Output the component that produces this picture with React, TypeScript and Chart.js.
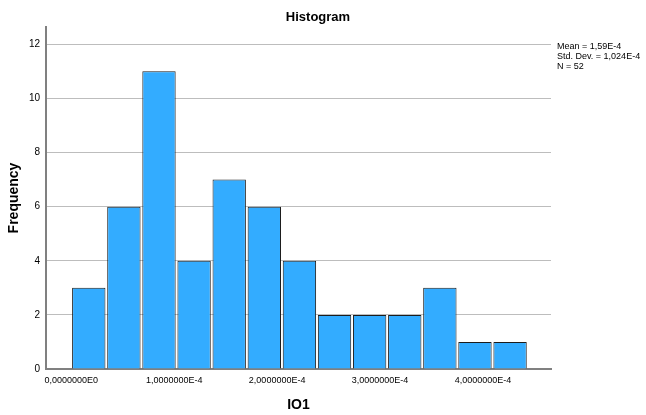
import React, { useEffect, useRef } from "react";
import { Chart, registerables } from "chart.js";

Chart.register(...registerables);

// Bin edges in units of 1e-4
const binEdges = [0.0, 0.341, 0.682, 1.023, 1.364, 1.705, 2.046, 2.387, 2.728, 3.069, 3.41, 3.751, 4.092, 4.433];
const frequencies = [3, 6, 11, 4, 7, 6, 4, 2, 2, 2, 3, 1, 1];
const xTickValues = [0, 1, 2, 3, 4];
const yTickValues = [0, 2, 4, 6, 8, 10, 12];
const legendLines = ["Mean = 1,59E-4", "Std. Dev. = 1,024E-4", "N = 52"];
const chartTitle = "Histogram";
const xTitle = "IO1";
const yTitle = "Frequency";

const FONT = "'Liberation Sans', Arial, sans-serif";

function formatX(v: number): string {
  if (v === 0) return "0,0000000E0";
  return `${v},0000000E-4`;
}

const textPlugin = {
  id: "spssTexts",
  afterDraw(chart: any) {
    const ctx = chart.ctx;
    const area = chart.chartArea;
    ctx.save();
    ctx.fillStyle = "#000";
    // main title
    ctx.font = `bold 13px ${FONT}`;
    ctx.textAlign = "center";
    ctx.textBaseline = "middle";
    ctx.fillText(chartTitle, 318, 17);
    // x title
    ctx.font = `bold 14px ${FONT}`;
    ctx.fillText(xTitle, (area.left + area.right) / 2, 405);
    // y title
    ctx.save();
    ctx.translate(14, (area.top + area.bottom) / 2);
    ctx.rotate(-Math.PI / 2);
    ctx.fillText(yTitle, 0, 0);
    ctx.restore();
    // legend / stats
    ctx.font = `9px ${FONT}`;
    ctx.textAlign = "left";
    legendLines.forEach((t, i) => {
      ctx.fillText(t, area.right + 6, 47 + i * 10);
    });
    ctx.restore();
  },
};

export default function App() {
  const ref = useRef<HTMLCanvasElement | null>(null);

  useEffect(() => {
    document.body.style.margin = "0";
    const canvas = ref.current;
    if (!canvas) return;
    const data = frequencies.map((f, i) => ({
      x: (binEdges[i] + binEdges[i + 1]) / 2,
      y: f,
    }));
    const chart = new Chart(canvas, {
      type: "bar",
      data: {
        datasets: [
          {
            data,
            backgroundColor: "#33acff",
            borderColor: "#1c1c1c",
            borderWidth: 1,
            barPercentage: 0.95,
            categoryPercentage: 1,
          } as any,
        ],
      },
      options: {
        responsive: false,
        animation: false,
        layout: { padding: { top: 27, right: 95, bottom: 0, left: 0 } },
        plugins: {
          legend: { display: false },
          tooltip: { enabled: false },
          title: { display: false },
        },
        scales: {
          x: {
            type: "linear",
            min: -0.245,
            max: 4.66,
            offset: false,
            afterFit: (s: any) => {
              s.height = 46;
            },
            afterBuildTicks: (s: any) => {
              s.ticks = xTickValues.map((v) => ({ value: v }));
            },
            ticks: {
              autoSkip: false,
              maxRotation: 0,
              padding: 6,
              color: "#000",
              font: { size: 9, family: FONT },
              callback: (v: any) => formatX(Number(v)),
            },
            grid: { display: false, drawTicks: false },
            border: { display: true, color: "#808080", width: 2 },
          },
          y: {
            type: "linear",
            min: 0,
            max: 12.64,
            afterFit: (s: any) => {
              s.width = 46;
            },
            afterBuildTicks: (s: any) => {
              s.ticks = yTickValues.map((v) => ({ value: v }));
            },
            ticks: {
              padding: 6,
              color: "#000",
              font: { size: 10, family: FONT },
            },
            grid: { color: "#bdbdbd", lineWidth: 1, drawTicks: false },
            border: { display: true, color: "#808080", width: 2 },
          },
        },
      },
      plugins: [textPlugin],
    });
    return () => chart.destroy();
  }, []);

  return (
    <div style={{ width: 646, height: 415, background: "#fff" }}>
      <canvas ref={ref} width={646} height={415} style={{ display: "block" }} />
    </div>
  );
}
